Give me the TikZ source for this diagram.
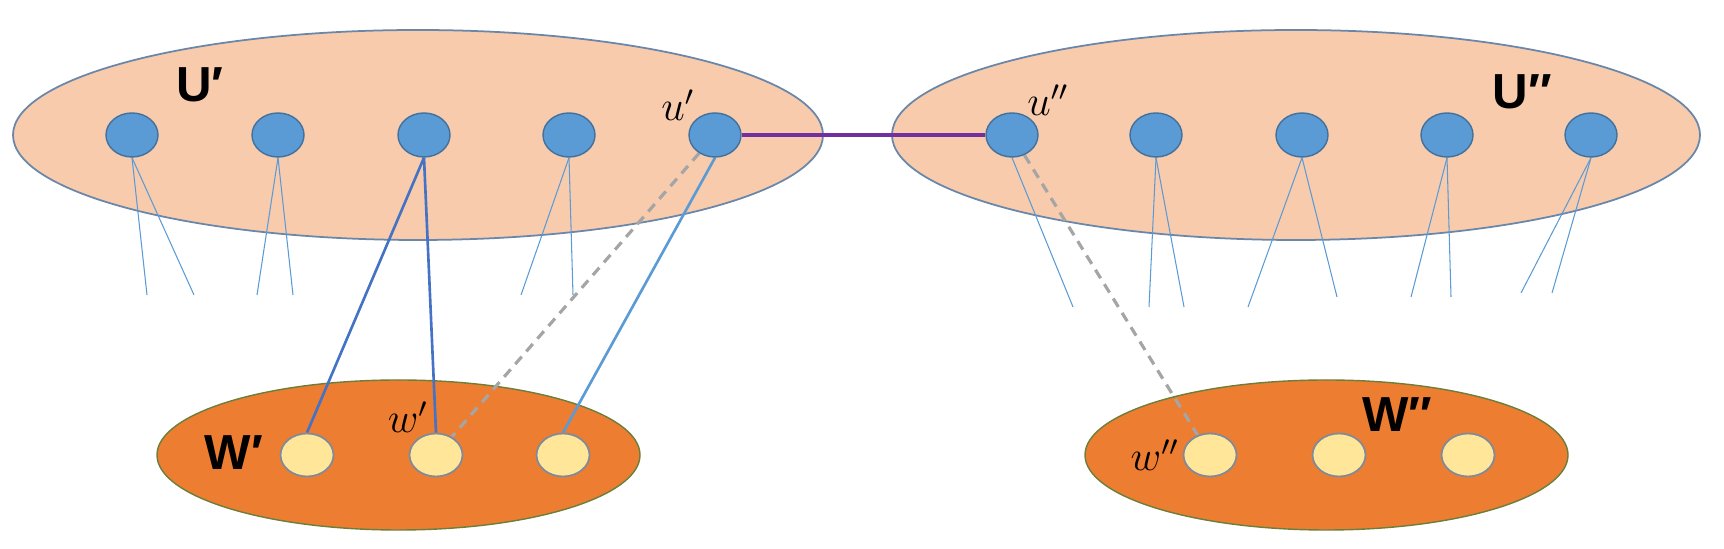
\documentclass[tikz,border=0pt]{standalone}
\usepackage{xcolor}
\usepackage{tikz}
\usepackage{fontspec}
\usetikzlibrary{shapes.geometric}
\newfontfamily\setfont{Liberation Sans}
\definecolor{setpeach}{HTML}{F8CBAD}
\definecolor{setorange}{HTML}{ED7D31}
\definecolor{setrim}{HTML}{6A86A8}
\definecolor{setolive}{HTML}{6B7F3A}
\definecolor{vblue}{HTML}{5B9BD5}
\definecolor{vbluerim}{HTML}{41719C}
\definecolor{vgold}{HTML}{FFE699}
\definecolor{vgoldrim}{HTML}{7F8A9A}
\definecolor{edgedark}{HTML}{4472C4}
\definecolor{edgegray}{HTML}{A5A5A5}
\definecolor{edgepurple}{HTML}{7030A0}
\pgfdeclarelayer{front}
\pgfsetlayers{main,front}

\begin{document}
\begin{tikzpicture}[x=1cm,y=1cm,
  bigset/.style={ellipse,fill=setpeach,draw=setrim,line width=0.5pt,inner sep=0pt,
    minimum width=8.1cm,minimum height=2.1cm},
  smallset/.style={ellipse,fill=setorange,draw=setolive,line width=0.4pt,inner sep=0pt,
    minimum width=4.83cm,minimum height=1.5cm},
  unode/.style={ellipse,fill=vblue,draw=vbluerim,line width=0.4pt,inner sep=0pt,
    minimum width=0.52cm,minimum height=0.44cm},
  wnode/.style={ellipse,fill=vgold,draw=vgoldrim,line width=0.5pt,inner sep=0pt,
    minimum width=0.53cm,minimum height=0.43cm},
  setlabel/.style={font=\setfont\bfseries\fontsize{14}{16}\selectfont,inner sep=0pt},
  vlabel/.style={font=\fontsize{12}{14}\selectfont,inner sep=0pt},
  thinedge/.style={vblue,line width=0.3pt},
  strongedge/.style={edgedark,line width=0.75pt},
  lightedge/.style={vblue,line width=0.75pt},
  hiddenedge/.style={edgegray,line width=0.9pt,dash pattern=on 2.8pt off 2pt},
  bridge/.style={edgepurple,line width=1.1pt}]
  \useasboundingbox (0,0) rectangle (17.24,5.49);

  % the four sets
  \node[bigset] (Ua) at (4.18,4.14) {};
  \node[bigset,minimum width=8.08cm] (Ub) at (12.96,4.14) {};
  \node[smallset] (Wa) at (3.985,0.94) {};
  \node[smallset] (Wb) at (13.265,0.94) {};

  % vertices
  \begin{pgfonlayer}{front}
    \foreach \i/\x in {1/1.32,2/2.78,3/4.24,4/5.69,5/7.15}
      \node[unode] (ua\i) at (\x,4.14) {};
    \foreach \i/\x in {1/10.12,2/11.56,3/13.02,4/14.47,5/15.91}
      \node[unode] (ub\i) at (\x,4.14) {};
    \foreach \i/\x in {1/3.07,2/4.36,3/5.63}
      \node[wnode] (wa\i) at (\x,0.94) {};
    \foreach \i/\x in {1/12.10,2/13.39,3/14.68}
      \node[wnode] (wb\i) at (\x,0.94) {};
  \end{pgfonlayer}

  % labels
  \node[setlabel] (labUa) at (2.00,4.64) {U′};
  \node[setlabel] (labUb) at (15.22,4.57) {U″};
  \node[setlabel] (labWa) at (2.34,0.96) {W′};
  \node[setlabel] (labWb) at (13.97,1.34) {W″};
  \node[vlabel] (labua) at (6.78,4.44) {$u'$};
  \node[vlabel] (labub) at (10.48,4.49) {$u''$};
  \node[vlabel] (labwa) at (4.08,1.32) {$w'$};
  \node[vlabel] (labwb) at (11.55,0.94) {$w''$};

  % loose ends below the big sets
  \foreach \n/\x/\y in {a1/1.47/2.54,a2/1.94/2.54,a3/2.57/2.54,a4/2.93/2.54,
      a5/5.21/2.54,a6/5.73/2.54,
      b1/10.73/2.42,b2/11.49/2.42,b3/11.84/2.42,b4/12.48/2.42,b5/13.37/2.52,
      b6/14.11/2.52,b7/14.51/2.52,b8/15.21/2.56,b9/15.52/2.56}
    \coordinate (t\n) at (\x,\y);
  \foreach \s/\e in {ua1/ta1,ua1/ta2,ua2/ta3,ua2/ta4,ua4/ta5,ua4/ta6,
      ub1/tb1,ub2/tb2,ub2/tb3,ub3/tb4,ub3/tb5,ub4/tb6,ub4/tb7,ub5/tb8,ub5/tb9}
    \draw[thinedge] (\s.south) -- (\e);

  % edges between the sets
  \draw[strongedge] (ua3.south) -- (wa1.north);
  \draw[strongedge] (ua3.south) -- (wa2.north);
  \draw[lightedge] (ua5.south) -- (wa3.north);
  \draw[hiddenedge] (ua5) -- (wa2);
  \draw[hiddenedge] (ub1) -- (wb1);
  \draw[bridge] (ua5.east) -- (ub1.west);
\end{tikzpicture}
\end{document}
